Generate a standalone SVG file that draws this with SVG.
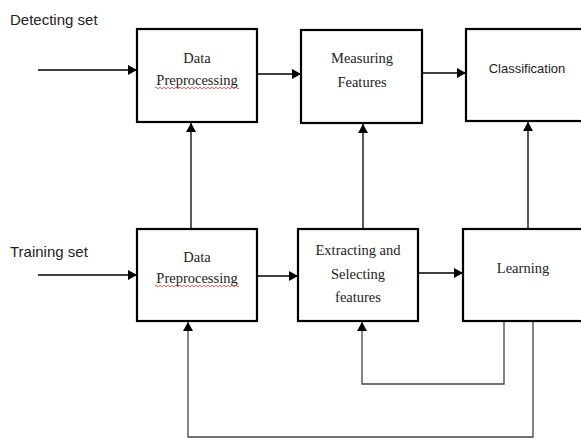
<svg xmlns="http://www.w3.org/2000/svg" width="581" height="439" viewBox="0 0 581 439">
<defs>
<marker id="ah" markerWidth="10" markerHeight="10" refX="9" refY="5" orient="auto" markerUnits="userSpaceOnUse">
<path d="M0,0 L9,5 L0,10 Z" fill="#000"/>
</marker>
<style>
.box{fill:#fff;stroke:#000;stroke-width:2.2}
.t{font-family:"Liberation Serif",serif;font-size:14.5px;fill:#222;text-anchor:middle}
.s{font-family:"Liberation Sans",Arial,sans-serif;fill:#222}
.c{fill:none;stroke:#000;stroke-width:1.3}
.g{fill:none;stroke:#444;stroke-width:1.3}
.w{fill:none;stroke:#e03030;stroke-width:0.8}
</style>
</defs>
<rect width="581" height="439" fill="#fff"/>
<text class="s" x="10" y="25" font-size="15">Detecting set</text>
<text class="s" x="10" y="257" font-size="15">Training set</text>
<g id="connectors">
<line class="c" x1="38" y1="70" x2="137" y2="70" marker-end="url(#ah)"/>
<line class="c" x1="257" y1="74" x2="301" y2="74" marker-end="url(#ah)"/>
<line class="c" x1="422" y1="73" x2="466" y2="73" marker-end="url(#ah)"/>
<line class="c" x1="38" y1="275" x2="137" y2="275" marker-end="url(#ah)"/>
<line class="c" x1="257" y1="276" x2="298" y2="276" marker-end="url(#ah)"/>
<line class="c" x1="418" y1="273" x2="463" y2="273" marker-end="url(#ah)"/>
<line class="c" x1="191" y1="229" x2="191" y2="123" marker-end="url(#ah)"/>
<line class="c" x1="363" y1="229" x2="363" y2="124" marker-end="url(#ah)"/>
<line class="c" x1="528" y1="229" x2="528" y2="122" marker-end="url(#ah)"/>
<polyline class="g" points="504,319 504,384 362,384 362,322" marker-end="url(#ah)"/>
<polyline class="g" points="533,319 533,437 188,437 188,322" marker-end="url(#ah)"/>
</g>
<g id="dp1">
<rect class="box" x="137" y="29" width="120" height="93"/>
<text class="t" x="197" y="63">Data</text>
<text class="t" x="197" y="85">Preprocessing</text>
<path class="w" d="M155,88 q1,-1.5 2,0 t2,0 t2,0 t2,0 t2,0 t2,0 t2,0 t2,0 t2,0 t2,0 t2,0 t2,0 t2,0 t2,0 t2,0 t2,0 t2,0 t2,0 t2,0 t2,0 t2,0 t2,0 t2,0 t2,0 t2,0 t2,0 t2,0 t2,0 t2,0 t2,0 t2,0 t2,0 t2,0 t2,0 t2,0 t2,0 t2,0 t2,0 t2,0 t2,0 t2,0 t2,0"/>
</g>
<g id="mf">
<rect class="box" x="301" y="30" width="121" height="93"/>
<text class="t" x="362" y="63">Measuring</text>
<text class="t" x="362" y="87">Features</text>
</g>
<g id="cl">
<rect class="box" x="466" y="29" width="130" height="92"/>
<text class="s" x="527" y="73" font-size="13" text-anchor="middle">Classification</text>
</g>
<g id="dp2">
<rect class="box" x="137" y="229" width="120" height="92"/>
<text class="t" x="197" y="262">Data</text>
<text class="t" x="197" y="283">Preprocessing</text>
<path class="w" d="M155,286 q1,-1.5 2,0 t2,0 t2,0 t2,0 t2,0 t2,0 t2,0 t2,0 t2,0 t2,0 t2,0 t2,0 t2,0 t2,0 t2,0 t2,0 t2,0 t2,0 t2,0 t2,0 t2,0 t2,0 t2,0 t2,0 t2,0 t2,0 t2,0 t2,0 t2,0 t2,0 t2,0 t2,0 t2,0 t2,0 t2,0 t2,0 t2,0 t2,0 t2,0 t2,0 t2,0 t2,0"/>
</g>
<g id="es">
<rect class="box" x="298" y="229" width="120" height="92"/>
<text class="t" x="358" y="255">Extracting and</text>
<text class="t" x="358" y="279">Selecting</text>
<text class="t" x="358" y="302">features</text>
</g>
<g id="le">
<rect class="box" x="463" y="229" width="130" height="92"/>
<text class="t" x="523" y="273">Learning</text>
</g>
</svg>
